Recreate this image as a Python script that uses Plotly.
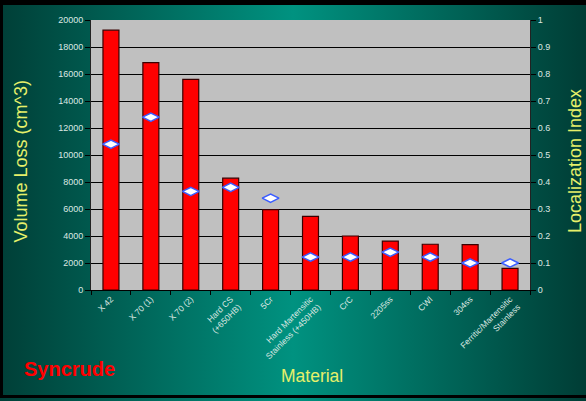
import base64
import plotly.graph_objects as go

materials = ["X 42", "X 70 (1)", "X 70 (2)", "Hard CS<br>(+650HB)", "5Cr",
             "Hard Martensitic<br>Stainless (+450HB)", "CrC", "2205ss", "CWI",
             "304ss", "Ferritic/Martensitic<br>Stainless"]
volume_loss = [19250, 16850, 15600, 8280, 5950, 5450, 4000, 3620, 3390, 3360, 1600]
localization_index = [0.54, 0.64, 0.365, 0.38, 0.34, 0.122, 0.122, 0.14, 0.122, 0.10, 0.10]

W, H = 586, 401
ML, MR, MT, MB = 91, 56, 20, 111
PW, PH = W - ML - MR, H - MT - MB

svg = f'''<svg xmlns="http://www.w3.org/2000/svg" width="{W}" height="{H}" viewBox="0 0 {W} {H}" preserveAspectRatio="none">
<defs><linearGradient id="g" x1="0" y1="0" x2="1" y2="0">
<stop offset="0" stop-color="#003f37"/>
<stop offset="0.5" stop-color="#009280"/>
<stop offset="1" stop-color="#003d35"/>
</linearGradient></defs>
<rect x="0" y="0" width="{W}" height="{H}" fill="url(#g)"/>
<rect x="0" y="0" width="{W}" height="5" fill="#000"/>
<rect x="0" y="0" width="3" height="398" fill="#000"/>
<rect x="0" y="395" width="{W}" height="3" fill="#000"/>
<rect x="{ML}" y="{MT}" width="{PW}" height="{PH}" fill="#c0c0c0"/>
</svg>'''
src = "data:image/svg+xml;base64," + base64.b64encode(svg.encode()).decode()

def px_x(x):
    return (x - ML) / PW

def px_y(y):
    return (MT + PH - y) / PH

tick_color = "#dce8e2"
title_color = "#e6f06a"
font_family = "Liberation Sans, Arial, sans-serif"

fig = go.Figure()
fig.add_trace(go.Bar(
    x=materials, y=volume_loss,
    marker=dict(color="#ff0000", line=dict(color="#3a0000", width=1.2)),
    hoverinfo="y",
))
fig.add_trace(go.Scatter(
    x=materials, y=localization_index, yaxis="y2", mode="markers",
    marker=dict(symbol="diamond-wide", size=12, color="white",
                line=dict(color="#3a5cff", width=1.5)),
))

def label(text, x, y, size, color, angle=0, family=font_family):
    return dict(text=text, xref="paper", yref="paper", x=px_x(x), y=px_y(y),
                xanchor="center", yanchor="middle", textangle=angle,
                showarrow=False, font=dict(size=size, color=color, family=family))

fig.update_layout(
    width=W, height=H,
    margin=dict(l=ML, r=MR, t=MT, b=MB, pad=0),
    paper_bgcolor="#00594e",
    plot_bgcolor="#c0c0c0",
    showlegend=False,
    bargap=0.6,
    font=dict(family=font_family, color=tick_color, size=9),
    images=[dict(source=src, xref="paper", yref="paper",
                 x=px_x(0), y=px_y(0), sizex=W / PW, sizey=H / PH,
                 xanchor="left", yanchor="top", sizing="stretch", layer="below")],
    xaxis=dict(
        range=[-0.5, len(materials) - 0.5],
        tickangle=-45, tickson="boundaries", ticks="outside", ticklen=4,
        tickcolor="#000", showline=True, linecolor="#000", linewidth=1,
        showgrid=False, tickfont=dict(size=8.5, color=tick_color),
    ),
    yaxis=dict(
        range=[0, 20000], dtick=2000, tickformat="d", ticks="outside", ticklen=5,
        tickcolor="#000", showline=True, linecolor="#222", linewidth=1,
        gridcolor="#000", gridwidth=1, zeroline=False,
        tickfont=dict(size=9, color=tick_color),
    ),
    yaxis2=dict(
        range=[0, 1], dtick=0.1, overlaying="y", side="right",
        ticks="outside", ticklen=5, tickcolor="#000",
        showline=True, linecolor="#222", linewidth=1,
        showgrid=False, zeroline=False,
        tickfont=dict(size=9, color=tick_color),
    ),
    annotations=[
        label("Volume Loss (cm^3)", 20.5, 161, 18, title_color, angle=-90),
        label("Localization Index", 575, 161, 18, title_color, angle=-90),
        label("Material", 312, 376, 17.5, title_color),
        label("<b>Syncrude</b>", 69, 369, 20, "#ff0000"),
    ],
)

fig.write_html("out.html")
